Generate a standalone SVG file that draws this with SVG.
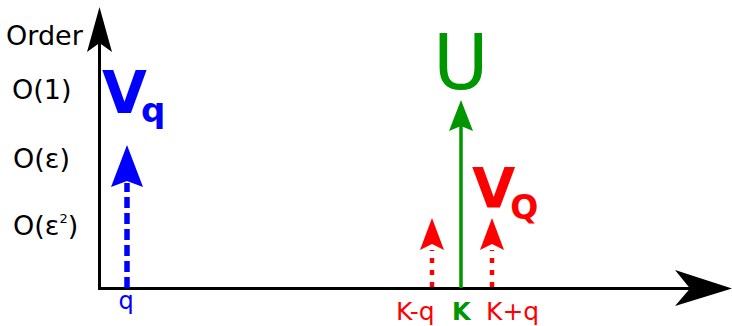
<svg xmlns="http://www.w3.org/2000/svg" width="732" height="326" viewBox="0 0 732 326">
<style>
text{font-family:"DejaVu Sans",Verdana,sans-serif}
.lbl{font-size:27px;fill:#000}
.axis{stroke:#000;stroke-width:3;fill:none}
.blue{fill:#0000ff}
.red{fill:#ff0000}
.green{fill:#009600}
</style>
<rect width="732" height="326" fill="#fff"/>
<g id="connectors">
<g id="y-axis">
<line class="axis" x1="99.5" y1="290" x2="99.5" y2="40"/>
<path d="M99.5,7 L112,52 L99.5,43 L87,52 Z" fill="#000"/>
</g>
<g id="x-axis">
<line class="axis" x1="98" y1="288.5" x2="695" y2="288.5"/>
<path d="M732,288.5 L675,270 L690,288.5 L675,306 Z" fill="#000"/>
</g>
<g id="arrow-q">
<line x1="127" y1="288" x2="127" y2="183" stroke="#0000ff" stroke-width="5.5" stroke-dasharray="11,5"/>
<path d="M127,145 L143,187 L127,181 L111,187 Z" class="blue"/>
</g>
<g id="arrow-K">
<line x1="461" y1="288" x2="461" y2="125" stroke="#009600" stroke-width="3.5"/>
<path d="M461,100 L473,131 L461,126 L449,131 Z" class="green"/>
</g>
<g id="arrow-Kmq">
<line x1="432" y1="287" x2="432" y2="250" stroke="#ff0000" stroke-width="4.5" stroke-dasharray="5,7"/>
<path d="M432,218 L444,250 L432,244 L420,250 Z" class="red"/>
</g>
<g id="arrow-Kpq">
<line x1="492" y1="287" x2="492" y2="250" stroke="#ff0000" stroke-width="4.5" stroke-dasharray="5,7"/>
<path d="M492,218 L504,250 L492,244 L480,250 Z" class="red"/>
</g>
</g>
<g id="axis-labels">
<text class="lbl" x="6" y="45">Order</text>
<text class="lbl" x="12" y="99">O(1)</text>
<text class="lbl" x="13" y="168">O(ε)</text>
<text class="lbl" x="13" y="235">O(ε<tspan font-size="13" dy="-12">2</tspan><tspan dy="12">)</tspan></text>
</g>
<g id="Vq">
<text class="blue" x="102" y="113" font-size="58" font-weight="bold">V<tspan font-size="34" dx="-6" dy="9">q</tspan></text>
</g>
<g id="U">
<text class="green" x="433" y="89" font-size="76">U</text>
</g>
<g id="VQ">
<text class="red" x="472" y="207" font-size="56" font-weight="bold">V<tspan font-size="33" dx="-5" dy="12">Q</tspan></text>
</g>
<g id="ticks">
<text class="blue" x="126" y="309" font-size="24" text-anchor="middle">q</text>
<text class="red" x="396" y="320" font-size="25">K-q</text>
<text class="green" x="452" y="320" font-size="24" font-weight="bold">K</text>
<text class="red" x="486" y="320" font-size="25">K+q</text>
</g>
</svg>
